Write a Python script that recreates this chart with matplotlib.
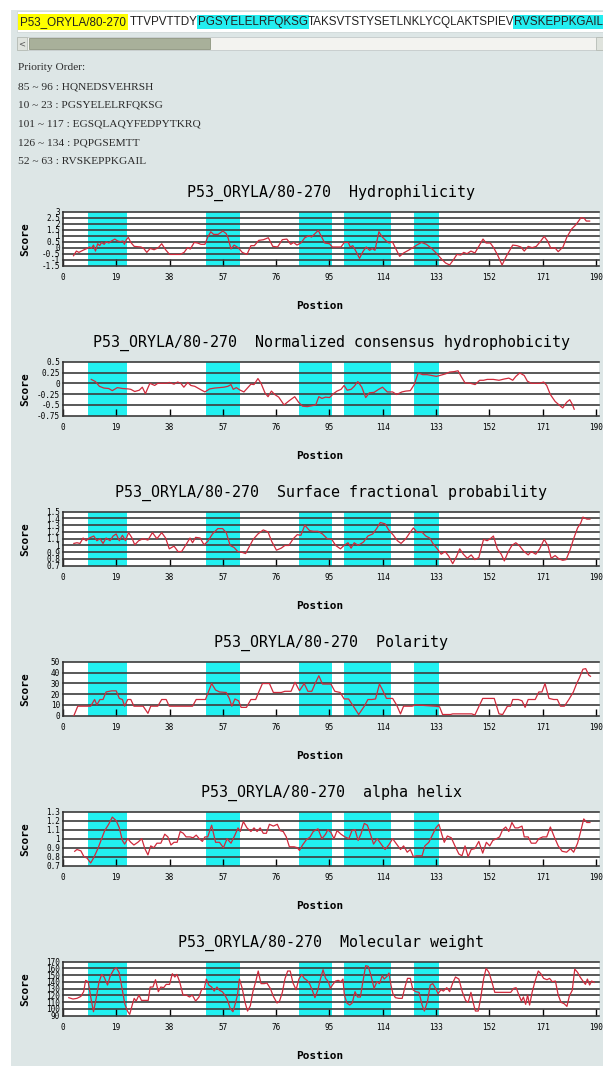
import numpy as np
import matplotlib.pyplot as plt
from matplotlib.patches import Rectangle
from matplotlib.text import Annotation

# ---- data ----
seq_label = 'P53_ORYLA/80-270'
seq_parts = ['TTVPVTTDY', 'PGSYELELRFQKSG', 'TAKSVTSTYSETLNKLYCQLAKTSPIEV', 'RVSKEPPKGAIL']
seq_marked = [False, True, False, True]

priority_lines = ['Priority Order:',
                  '85 ~ 96 : HQNEDSVEHRSH',
                  '10 ~ 23 : PGSYELELRFQKSG',
                  '101 ~ 117 : EGSQLAQYFEDPYTKRQ',
                  '126 ~ 134 : PQPGSEMTT',
                  '52 ~ 63 : RVSKEPPKGAIL']

# highlighted regions (start, end) in sequence positions
bands = [(9, 23), (51, 63), (84, 96), (100, 117), (125, 134)]
xticks = list(range(0, 191, 19))
protein = 'P53_ORYLA/80-270'

names = ['Hydrophilicity', 'Normalized consensus hydrophobicity',
         'Surface fractional probability', 'Polarity', 'alpha helix',
         'Molecular weight']

hyd_ticks = [-1.5, -1, -0.5, 0, 0.5, 1, 1.5, 2, 2.5, 3]
hyd_labels = ['-1.5', '-1', '-0.5', '0', '0.5', '1', '1.5', '2', '2.5', '3']
hyd_x = [3.8, 4.8, 5.7, 7.1, 8.6, 9.5, 10.2, 10.9, 11.6, 12.4, 13.1, 13.8, 14.7, 15.4,
         16.4, 17.3, 18.5, 19.5, 20.4, 21.4, 21.9, 22.6, 23.3, 24.2, 25.4, 27.8, 28.8,
         29.9, 31.1, 32.5, 34, 35.2, 36.6, 38, 39.9, 41.8, 43.2, 44.4, 45.4, 46.8, 48,
         49.2, 50.6, 51.5, 52.7, 53.7, 55.3, 57, 58.2, 58.9, 59.9, 61, 62.5, 63.9, 65.6,
         67, 68.2, 69.8, 71.5, 73.2, 74.8, 76.5, 78.2, 79.8, 81.2, 82.2, 83.4, 84.8,
         86.2, 87.6, 88.6, 89.8, 91, 92.2, 93.3, 95, 96, 99.1, 100.3, 101.7, 102.4,
         103.3, 104.5, 105.7, 106.9, 108.1, 109.3, 110.2, 111.2, 112.6, 113.8, 115,
         116.2, 117.4, 118.8, 120, 121.4, 123.1, 124.7, 126.1, 127.8, 129.5, 131.1, 133,
         134.9, 136.4, 137.8, 139.2, 140.4, 141.8, 142.8, 144, 145.4, 146.8, 148.2,
         149.7, 150.8, 152.3, 153.5, 154.9, 156.5, 158, 159.2, 160.3, 161.8, 163.2,
         164.4, 165.8, 167.2, 168.7, 170.1, 171.5, 172.7, 173.9, 175.3, 176.5, 178.2,
         179.6, 181.3, 182.9, 184.6, 185.8, 186.5, 187.7]
hyd_y = [-0.67, -0.28, -0.39, -0.22, -0.06, 0.06, -0.06, 0.22, -0.28, 0.33, 0.17, 0.44,
         0.28, 0.5, 0.39, 0.56, 0.72, 0.56, 0.5, 0.56, 0.28, 0.67, 0.86, 0.44, 0.11, 0.06,
         -0.06, -0.39, -0.06, -0.17, 0, 0.33, -0.17, -0.56, -0.56, -0.56, -0.39, 0, -0.11,
         0.44, 0.39, 0.28, 0.28, 0.83, 1.33, 1.11, 1.11, 1.39, 1.17, 0.78, -0.11, 0.22, 0,
         -0.39, -0.56, 0.17, 0.17, 0.61, 0.67, 0.83, 0.11, 0.06, 0.67, 0.72, 0.28, 0.44,
         0.22, 0.39, 0.83, 1.0, 0.89, 1.17, 1.44, 0.89, 0.39, 0.33, 0.06, 0.06, 0.44,
         0.44, 0.06, 0.17, -0.33, -0.89, -0.33, 0.06, -0.22, -0.06, -0.22, 1.33, 0.89,
         0.61, 0.39, 0.5, -0.17, -0.72, -0.44, -0.22, 0, 0.22, 0.44, 0.28, 0, -0.44,
         -0.94, -1.28, -1.44, -1.0, -0.56, -0.61, -0.39, -0.5, -0.28, -0.44, 0.11, 0.72,
         0.39, 0.39, 0, -0.61, -1.44, -0.72, -0.22, 0.22, 0.17, 0.06, -0.28, 0.11, 0,
         0.11, 0.5, 0.94, 0.56, -0.06, 0, -0.33, 0.06, 0.89, 1.56, 1.94, 2.5, 2.44, 2.22,
         2.22]

nch_ticks = [-0.75, -0.5, -0.25, 0, 0.25, 0.5]
nch_labels = ['-0.75', '-0.5', '-0.25', '0', '0.25', '0.5']
nch_x = [10.1, 11.6, 13, 14.6, 16.3, 17.6, 19.4, 21.2, 23.3, 24.2, 25.6, 27.2, 28.3, 29.4,
         31, 32.7, 33.8, 36.8, 37.9, 39.6, 40.9, 42, 43.1, 44.5, 45.6, 47, 48.9, 50.6,
         52.3, 54.1, 55.8, 57.4, 58.8, 59.9, 60.7, 61.8, 63.2, 64.5, 65.9, 67, 68.1, 69.5,
         70.6, 72, 73.1, 74.3, 75.5, 76.9, 78.8, 80.7, 82.6, 84, 85.4, 87.1, 88.7, 90.1,
         91.2, 92.3, 93.6, 95, 96.4, 97.7, 99.1, 100.2, 101.3, 102.7, 103.8, 105.1, 106.5,
         107.9, 109.2, 110.9, 112.5, 113.9, 115.6, 117.5, 118.9, 120.8, 122.2, 123.8,
         125.2, 126.6, 128.2, 129.8, 131.5, 133.1, 134.8, 136.4, 137.8, 139.4, 140.8,
         141.9, 143.3, 145.2, 146.9, 148.5, 149.9, 151.2, 153.4, 155.4, 157.3, 158.9,
         160.3, 161.4, 162.8, 164.4, 165.5, 166.9, 168.5, 169.9, 171.3, 172.4, 173.7,
         175.4, 176.8, 178.1, 179.5, 180.6, 181.4, 182.2]
nch_y = [0.09, 0.04, -0.07, -0.11, -0.12, -0.17, -0.1, -0.12, -0.13, -0.14, -0.19, -0.16,
         -0.09, -0.24, 0.0, -0.05, 0.0, 0.0, 0.02, -0.02, 0.03, 0.0, -0.09, 0.02, -0.05,
         -0.07, -0.14, -0.2, -0.13, -0.11, -0.1, -0.09, -0.07, -0.03, -0.14, -0.1, -0.16,
         -0.2, -0.1, -0.02, -0.03, 0.11, 0.0, -0.22, -0.31, -0.18, -0.26, -0.32, -0.5,
         -0.4, -0.31, -0.44, -0.53, -0.54, -0.52, -0.5, -0.31, -0.35, -0.32, -0.33, -0.24,
         -0.18, -0.14, -0.05, -0.16, -0.14, -0.07, 0.04, -0.09, -0.33, -0.22, -0.21, -0.14,
         -0.09, -0.2, -0.2, -0.26, -0.2, -0.18, -0.17, -0.03, 0.24, 0.2, 0.2, 0.18, 0.16,
         0.19, 0.22, 0.26, 0.27, 0.29, 0.16, 0.01, 0.0, -0.03, 0.07, 0.07, 0.09, 0.09,
         0.07, 0.1, 0.12, 0.07, 0.16, 0.24, 0.18, 0.05, 0.0, 0.0, 0.0, 0.03, -0.05, -0.26,
         -0.42, -0.5, -0.57, -0.44, -0.38, -0.47, -0.6]

sfp_ticks = [0.7, 0.8, 0.9, 1, 1.1, 1.2, 1.3, 1.4, 1.5]
sfp_labels = ['0.7', '0.8', '0.9', '1', '1.1', '1.2', '1.3', '1.4', '1.5']
sfp_x = [3.9, 5, 6.1, 7.2, 8.3, 9.4, 11, 12.1, 13.2, 14.3, 15.4, 16.8, 17.9, 19, 20.1,
         21.2, 22.3, 23.4, 24.5, 25.6, 27, 28.6, 30.3, 31.9, 33.5, 35.2, 36.6, 37.9, 39.6,
         41, 42.3, 43.7, 45.3, 46.2, 47.3, 48.9, 50.3, 51.6, 53.3, 55.2, 56.9, 58.2, 59.6,
         61, 62.3, 63.7, 65.1, 66.4, 67.8, 69.5, 71.4, 73.1, 74.4, 76.1, 77.8, 79.1, 80.5,
         82.1, 83.5, 84.8, 86.2, 87.9, 89.2, 90.9, 92.5, 94.2, 95.8, 97.2, 98.9, 100.2,
         101.6, 102.7, 103.8, 105.2, 107.1, 108.7, 110.4, 111.8, 113.1, 114.8, 116.1,
         117.8, 119.2, 120.5, 122.2, 123.5, 124.9, 126.3, 127.9, 129.3, 130.7, 132, 133.4,
         134.8, 136.2, 137.5, 138.9, 140.3, 141.4, 142.7, 144.1, 145.5, 146.8, 148.2,
         149.9, 151.2, 152.6, 153.4, 154.8, 156.2, 157.3, 158.6, 160, 161.4, 162.8, 164.1,
         165.8, 166.9, 168.5, 169.9, 171.5, 172.9, 174, 175.4, 176.8, 178.1, 179.3, 180.6,
         182, 183.4, 184.5, 185.3, 186.7, 187.8]
sfp_y = [1.03, 1.04, 1.03, 1.11, 1.07, 1.11, 1.14, 1.07, 1.1, 1.03, 1.11, 1.07, 1.14, 1.17,
         1.07, 1.15, 1.07, 1.19, 1.12, 1.01, 1.07, 1.1, 1.08, 1.19, 1.1, 1.19, 1.11, 0.95,
         0.99, 0.91, 0.91, 1.0, 1.11, 1.04, 1.12, 1.11, 1.01, 1.06, 1.17, 1.25, 1.25, 1.19,
         1.0, 0.97, 0.91, 0.9, 0.88, 0.98, 1.09, 1.17, 1.23, 1.2, 1.06, 0.93, 0.96, 1.0,
         1.0, 1.1, 1.16, 1.15, 1.3, 1.22, 1.21, 1.21, 1.17, 1.1, 1.09, 1.0, 0.95, 1.0,
         1.04, 0.96, 1.04, 1.0, 1.05, 1.14, 1.17, 1.25, 1.34, 1.32, 1.23, 1.15, 1.07, 1.03,
         1.1, 1.18, 1.26, 1.19, 1.2, 1.14, 1.11, 1.02, 0.95, 0.87, 0.91, 0.84, 0.73, 0.84,
         0.95, 0.87, 0.81, 0.86, 0.79, 0.82, 1.09, 1.07, 1.11, 1.14, 0.95, 0.87, 0.77, 0.9,
         1.0, 1.04, 0.99, 0.92, 0.86, 0.91, 0.87, 0.95, 1.09, 0.99, 0.81, 0.85, 0.8, 0.78,
         0.79, 0.92, 1.1, 1.26, 1.33, 1.42, 1.39, 1.39]

pol_ticks = [0, 10, 20, 30, 40, 50]
pol_labels = ['0', '10', '20', '30', '40', '50']
pol_x = [3.9, 5.3, 9.9, 11.3, 12.1, 13.2, 14.3, 15.4, 17.4, 19, 20.1, 21.2, 22, 23.1, 24.2,
         25.3, 28.6, 30.3, 31.3, 33.8, 35.2, 36.8, 37.9, 46.2, 47.5, 50.8, 53, 54.4, 55.8,
         58.2, 59.3, 60.2, 61.3, 62.6, 63.5, 65.4, 67, 68.7, 69.8, 71.1, 73.6, 75, 77.8,
         79.1, 81.3, 82.7, 84.3, 86, 87.3, 88.7, 89.8, 91.2, 92.5, 95.5, 96.9, 98.8, 100.2,
         101.8, 103.5, 105.4, 107.4, 108.7, 110.1, 111.4, 112.8, 113.9, 115.3, 117.5,
         118.9, 120.3, 121.4, 124.4, 125.7, 132.6, 134.2, 135.3, 138.1, 138.9, 145.7,
         146.8, 149.6, 153.7, 155.4, 156.7, 158.4, 159.5, 160.3, 162.3, 163.6, 164.7,
         165.8, 168.3, 169.6, 170.7, 171.8, 173.2, 174.9, 176.2, 177.3, 178.7, 180.3,
         181.9, 183, 184.1, 185.3, 186.3, 187.4, 188]
pol_y = [0, 8.8, 8.8, 15, 10, 15, 15, 22, 23, 23, 16, 15, 8.8, 15, 15, 8.8, 8.8, 2.2, 8.8,
         8.8, 15, 15, 8.8, 8.8, 15, 15, 29.8, 23.8, 22, 21.5, 16, 8.8, 15.5, 13.8, 7.7, 7.7,
         15, 15, 22, 29.8, 29.8, 21.5, 21.5, 22.6, 22.6, 31, 23.2, 29.8, 22.6, 22.6, 29.3,
         37, 29.3, 29.3, 22.6, 21.5, 15.5, 15.5, 8.8, 1.1, 8.8, 15, 15, 15.5, 29.3, 23.8,
         16, 16, 10, 1.7, 8.8, 8.8, 10, 8.8, 8.3, 1.1, 1.1, 1.7, 1.7, 0.6, 16, 16, 1.7,
         1.1, 8.8, 8.8, 15, 15, 13.8, 7.7, 15, 15, 22, 22, 29.8, 16, 15, 15, 8.8, 8.8, 15,
         22, 29.3, 35.4, 43, 43.6, 37.6, 36.5]

ah_ticks = [0.7, 0.8, 0.9, 1, 1.1, 1.2, 1.3]
ah_labels = ['0.7', '0.8', '0.9', '1', '1.1', '1.2', '1.3']
ah_x = [4.2, 5, 6.4, 7.5, 8.6, 9.9, 11, 12.4, 13.8, 14.9, 16.3, 17.6, 19, 20.1, 21.2, 22,
        23.1, 24.2, 25.3, 26.7, 28.1, 29.2, 30.3, 31.3, 32.4, 33.5, 34.9, 36.3, 37.4, 38.5,
        39.6, 40.7, 41.8, 42.9, 43.9, 45.3, 46.4, 47.5, 48.6, 49.7, 50.6, 51.6, 53, 54.4,
        55.8, 57.2, 58.5, 59.9, 61.3, 62.4, 63.2, 64.3, 65.6, 67, 68.1, 69.2, 70.3, 71.4,
        72.5, 73.6, 75, 76.4, 77.4, 78.5, 79.6, 80.7, 82.4, 83.5, 84.3, 85.4, 86.8, 88.1,
        89.2, 90.9, 92.3, 93.6, 94.4, 95.5, 96.6, 97.7, 99.1, 100.5, 101.9, 103, 104.1,
        105.2, 106.3, 107.4, 108.5, 109.6, 110.7, 112, 113.4, 114.8, 116.1, 117.5, 118.9,
        120.3, 121.4, 122.7, 123.8, 124.9, 126, 128, 129, 130.4, 131.5, 132.9, 134, 135.1,
        135.9, 137, 138.4, 139.7, 141.1, 142.2, 143.3, 144.4, 145.5, 146.8, 148.2, 149.6,
        150.9, 152.1, 153.2, 154.5, 155.6, 156.7, 157.8, 158.9, 160, 161.1, 162.2, 163.6,
        164.4, 165.8, 166.9, 168.5, 169.6, 171, 172.4, 173.7, 175.1, 176.5, 177.9, 179.5,
        180.9, 182, 183.4, 184.5, 185.6, 186.7, 187.8]
ah_y = [0.86, 0.88, 0.865, 0.8, 0.785, 0.73, 0.79, 0.885, 1.0, 1.09, 1.16, 1.24, 1.2, 1.12,
        0.98, 0.94, 1.0, 0.96, 0.93, 0.96, 1.0, 0.89, 0.82, 0.92, 0.9, 0.95, 0.95, 1.05,
        1.02, 0.93, 0.96, 0.96, 1.08, 1.06, 1.02, 1.02, 1.01, 1.04, 1.0, 0.97, 1.02, 1.02,
        1.15, 0.96, 0.96, 0.9, 1.0, 0.95, 1.04, 1.12, 1.08, 1.19, 1.12, 1.08, 1.12, 1.08,
        1.12, 1.06, 1.06, 1.16, 1.14, 1.16, 1.09, 1.08, 1.02, 0.91, 0.91, 0.9, 0.87, 0.93,
        0.99, 1.02, 1.08, 1.11, 1.0, 1.05, 1.1, 1.07, 1.0, 1.09, 1.05, 1.02, 1.0, 1.09,
        1.1, 0.98, 1.06, 1.17, 1.15, 1.05, 0.94, 1.0, 0.94, 0.88, 0.93, 1.0, 0.94, 0.88,
        0.92, 0.85, 0.88, 0.8, 0.81, 0.81, 0.92, 0.96, 1.03, 1.12, 1.16, 1.04, 0.96, 1.03,
        1.01, 0.92, 0.83, 0.81, 0.92, 0.8, 0.88, 0.89, 0.97, 0.84, 0.96, 0.92, 0.98, 1.0,
        1.02, 1.1, 1.13, 1.08, 1.18, 1.12, 1.12, 1.14, 1.02, 1.02, 0.95, 0.95, 1.0, 1.02,
        1.02, 1.13, 1.02, 0.92, 0.86, 0.85, 0.89, 0.85, 0.95, 1.08, 1.22, 1.18, 1.18]

mw_ticks = [90, 100, 110, 120, 130, 140, 150, 160, 170]
mw_labels = ['90', '100', '110', '120', '130', '140', '150', '160', '170']
mw_x = [2.1, 3.6, 5, 6.4, 7.4, 8.1, 9, 10, 10.9, 11.9, 12.8, 13.8, 14.7, 15.9, 16.9, 18.1,
        19, 20, 20.9, 22.1, 23, 23.8, 24.7, 25.4, 26.1, 27.1, 28, 29.2, 30.4, 31.1, 32.1,
        33, 34, 34.9, 35.9, 36.8, 38, 39, 39.9, 40.6, 41.6, 42.8, 44, 45.1, 46.1, 47.3,
        48.5, 49.4, 50.4, 51.1, 52, 53, 53.9, 54.9, 55.8, 56.8, 57.7, 58.7, 59.6, 60.6,
        61.5, 62.2, 62.9, 63.9, 64.9, 65.8, 66.8, 67.7, 68.7, 69.6, 70.6, 71.7, 72.7, 73.9,
        75, 76.3, 77.2, 78.2, 79.1, 80.1, 81, 82, 83.1, 84.1, 85.1, 86, 87, 87.9, 88.9,
        89.8, 90.8, 91.7, 92.7, 93.6, 94.6, 95.3, 96.2, 97.2, 98.1, 99.1, 99.8, 100.3,
        101.2, 102.2, 103.1, 104.1, 105, 106, 106.9, 107.9, 108.8, 109.8, 110.9, 111.9,
        112.8, 113.8, 114.5, 115.5, 116.2, 116.9, 117.6, 118.5, 119.7, 120.9, 121.9, 122.8,
        123.8, 124.7, 125.7, 126.9, 128, 128.8, 129.9, 130.9, 131.8, 132.8, 133.7, 134.7,
        135.6, 136.8, 137.8, 139, 139.9, 141.1, 142.3, 143.5, 144.4, 145.4, 146.3, 147,
        148, 148.9, 149.9, 150.8, 151.8, 152.7, 153.9, 155.4, 157.7, 159.6, 160.6, 161.5,
        162.5, 163.4, 164.1, 164.9, 165.6, 166.3, 167.2, 168.2, 169.4, 170.3, 171.3, 172.5,
        173.4, 174.4, 175.5, 176.5, 177.5, 178.6, 179.6, 180.5, 181.5, 182.4, 183.4, 184.3,
        185.3, 186.2, 186.9, 187.7, 188.4, 189.3]
mw_y = [116.7, 114.7, 115.7, 118.6, 125.6, 142.3, 140.4, 115.7, 95.9, 116.7, 138.4, 151.2,
        147.3, 135.4, 149.3, 158.1, 161.1, 154.2, 134.4, 106.8, 96.9, 92, 105.8, 115.7,
        111.7, 120.6, 112.7, 112.7, 112.7, 132.5, 132.5, 143.3, 125.6, 132.5, 131.5, 136.4,
        136.4, 152.2, 147.3, 151.2, 140.4, 120.6, 120.6, 117.7, 120.6, 111.7, 117.7, 128.5,
        130.5, 144.3, 135.4, 132.5, 126.5, 132.5, 127.5, 125.6, 120.6, 112.7, 100.9, 95.9,
        108.8, 120.6, 144.3, 130.5, 109.8, 96.9, 104.8, 125.6, 140.4, 156.2, 137.5, 137.5,
        138.4, 130.5, 118.6, 108.8, 111.7, 124.6, 144.3, 156.2, 156.2, 138.4, 128.5, 144.3,
        151.2, 145.3, 142.3, 137.5, 127.5, 116.7, 127.5, 143.3, 158.1, 145.3, 140.4, 130.5,
        136.4, 141.4, 142.3, 140.4, 144.3, 120.6, 108.8, 105.8, 108.8, 125.6, 117.7, 117.7,
        140.4, 164.1, 163.1, 149.3, 130.5, 140.4, 137.5, 149.3, 144.3, 148.3, 153.2, 135.4,
        122.6, 116.7, 115.7, 115.7, 132.5, 145.3, 145.3, 128.5, 125.6, 124.6, 105.8, 96.9,
        110.8, 135.4, 137.5, 130.5, 122.6, 128.5, 126.5, 131.5, 125.6, 139.4, 147.3, 144.3,
        125.6, 112.7, 109.8, 124.6, 107.8, 96.9, 96.9, 116.7, 144.3, 160.1, 154.2, 142.3,
        124.6, 124.6, 124.6, 124.6, 130.5, 131.5, 120.6, 111.7, 117.7, 106.8, 120.6, 105.8,
        124.6, 140.4, 156.2, 152.2, 145.3, 143.3, 145.3, 140.4, 141.4, 120.6, 109.8, 107.8,
        103.8, 119.6, 127.5, 159.1, 154.2, 147.3, 141.4, 136.4, 144.3, 135.4, 141.4, 139.4]

series = [(hyd_x, hyd_y, hyd_ticks, hyd_labels),
          (nch_x, nch_y, nch_ticks, nch_labels),
          (sfp_x, sfp_y, sfp_ticks, sfp_labels),
          (pol_x, pol_y, pol_ticks, pol_labels),
          (ah_x, ah_y, ah_ticks, ah_labels),
          (mw_x, mw_y, mw_ticks, mw_labels)]

# ---- figure ----
W, H = 603, 1066
fig = plt.figure(figsize=(W / 100, H / 100), dpi=100, facecolor='white')

def fx(x):
    return x / W

def fy(y):
    return 1 - y / H

def frect(x0, y0, x1, y1, **kw):
    # rectangle given in picture pixels (top-left origin)
    r = Rectangle((fx(x0), fy(y1)), (x1 - x0) / W, (y1 - y0) / H,
                  transform=fig.transFigure, **kw)
    fig.patches.append(r)

bg = '#dde6e6'
cyan = '#22f0f0'
red = '#d02a3c'
grid = '#3c3c3c'
mono = 'DejaVu Sans Mono'

frect(11, 10, 603, 1066, facecolor=bg, edgecolor='none', zorder=-5)

# sequence row
frect(17, 11, 603, 32, facecolor='white', edgecolor='#cfd8d8', lw=0.6, zorder=-4)
seq_kw = dict(fontsize=8.4, family='Liberation Sans', color='#222222', va='center')
prev = fig.text(fx(20), fy(22), seq_label, ha='left',
                bbox=dict(boxstyle='square,pad=0.2', fc='#ffff00', ec='none'), **seq_kw)
first = True
for part, marked in zip(seq_parts, seq_marked):
    kw = dict(seq_kw)
    if marked:
        kw['bbox'] = dict(boxstyle='square,pad=0.1', fc='#22eef0', ec='none')
    a = Annotation(part, xy=(1, 0.5), xycoords=prev, xytext=(3 if first else 0, 0),
                   textcoords='offset points', ha='left', **kw)
    fig.add_artist(a)
    prev = a
    first = False

# scroll bar
frect(17, 37, 603, 50, facecolor='#f3f3f0', edgecolor='#c3caca', lw=0.6, zorder=-4)
frect(17, 37, 27, 50, facecolor='#dfe3dd', edgecolor='#b5bcb5', lw=0.6, zorder=-3)
fig.text(fx(22), fy(43.5), '<', ha='center', va='center', fontsize=6, color='#555555')
frect(29, 38, 210, 49, facecolor='#a8b09a', edgecolor='#8d957f', lw=0.6, zorder=-3)
frect(596, 37, 603, 50, facecolor='#dfe3dd', edgecolor='#b5bcb5', lw=0.6, zorder=-3)

# priority list
for i, line in enumerate(priority_lines):
    fig.text(fx(18), fy(68 + 18.7 * i), line, ha='left', va='center', fontsize=8.2,
             family='Liberation Serif', color='#2a2a2a')

# ---- panels ----
for k, (xs, ys, ticks, labels) in enumerate(series):
    top = 211.7 + 150 * k
    bot = 265.7 + 150 * k
    ax = fig.add_axes([fx(62.9), fy(bot), fx(536), (bot - top) / H])
    ax.set_facecolor('white')
    ax.set_xlim(0, 191)
    ax.set_ylim(ticks[0], ticks[-1])
    for a0, a1 in bands:
        ax.axvspan(a0, a1, color=cyan, lw=0, zorder=1)
    for tv in ticks:
        ax.axhline(tv, color=grid, lw=1.2, zorder=2, clip_on=False)
    ax.plot(xs, ys, color=red, lw=0.9, zorder=3)
    for s in ['top', 'right', 'bottom']:
        ax.spines[s].set_visible(False)
    ax.spines['left'].set_color('#333333')
    ax.spines['left'].set_linewidth(1.2)
    ax.set_xticks(xticks)
    ax.set_xticklabels([str(v) for v in xticks], family=mono, fontsize=5.5)
    ax.tick_params(axis='x', direction='in', length=5, width=1, color='black', pad=5,
                   labelcolor='black')
    ax.set_yticks(ticks)
    ax.set_yticklabels(labels, family=mono, fontsize=5.5)
    ax.tick_params(axis='y', length=0, pad=2, labelcolor='black')

    fig.text(fx(331), fy(193 + 150 * k), protein + '  ' + names[k], ha='center', va='center',
             family=mono, fontsize=10.8, color='black')
    fig.text(fx(25), fy((top + bot) / 2), 'Score', rotation=90, ha='center', va='center',
             family=mono, fontsize=8, weight='bold')
    fig.text(fx(320), fy(306 + 150 * k), 'Postion', ha='center', va='center',
             family=mono, fontsize=8, weight='bold')

fig.savefig('out.png', dpi=100, facecolor='white')
